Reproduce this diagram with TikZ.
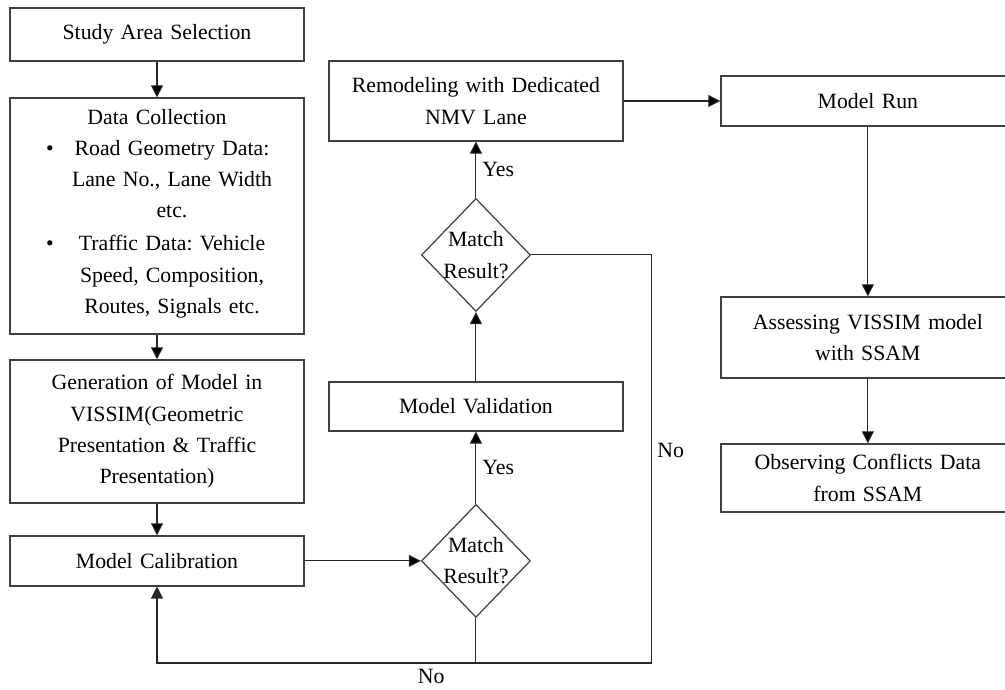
\documentclass[tikz,border=0pt]{standalone}
\usepackage{fontspec}
\setmainfont{Liberation Serif}
\usepackage{tikz}
\usetikzlibrary{positioning,shapes.geometric,arrows.meta}
\frenchspacing

\newcommand{\bulletline}[1]{\par\noindent\hspace*{0.72cm}\makebox[0.37cm][l]{\textbullet}\parbox[t]{4.3cm}{\centering\strut #1\strut}}

\tikzset{
  block/.style={draw=black!75, line width=0.7pt, minimum width=5.88cm, text width=5.6cm, align=center, inner sep=0pt},
  decision/.style={diamond, draw=black!75, line width=0.7pt, minimum width=2.18cm, minimum height=2.26cm, inner sep=-3pt, align=center},
  line/.style={draw=black!85, line width=0.6pt}
}

\begin{document}
\begin{tikzpicture}[x=0.02cm,y=-0.02cm,on grid,font=\fontsize{12.4}{17.8}\selectfont,>={Triangle[length=2.4mm,width=2.4mm]}]
  \useasboundingbox (0,0) rectangle (1005,690);
  \node[block, minimum height=1.06cm] (study) at (157,34.5) {Study Area Selection};
  \node[block, text width=5.88cm, align=left, minimum height=4.72cm] (data) [below=3.63cm of study] {\makebox[5.88cm]{Data Collection}\bulletline{Road Geometry Data:\\ Lane No., Lane Width\\ etc.}\bulletline{Traffic Data: Vehicle\\ Speed, Composition,\\ Routes, Signals etc.}};
  \node[block, minimum height=2.86cm] (gen) [below=4.31cm of data] {Generation of Model in\\ VISSIM(Geometric\\ Presentation \& Traffic\\ Presentation)};
  \node[block, minimum height=1cm] (calib) [below=2.59cm of gen] {Model Calibration};
  \node[decision] (match2) [right=6.38cm of calib] {Match\\ Result?};
  \node[block, minimum height=0.98cm] (valid) [above=3.09cm of match2] {Model Validation};
  \node[decision] (match1) [above=3.03cm of valid] {Match\\ Result?};
  \node[block, minimum height=1.6cm] (remodel) [above=3.08cm of match1] {Remodeling with Dedicated\\ NMV Lane};
  \node[block, minimum height=1cm] (run) [right=7.84cm of remodel] {Model Run};
  \node[block, minimum height=1.62cm] (assess) [below=4.73cm of run] {Assessing VISSIM model\\ with SSAM};
  \node[block, minimum height=1.36cm] (observe) [below=2.81cm of assess] {Observing Conflicts Data\\ from SSAM};
  \path[line,->] (study) edge (data);
  \path[line,->] (data) edge (gen);
  \path[line,->] (gen) edge (calib);
  \path[line,->] (calib) edge (match2);
  \path[line,->] (match2) edge node[right] {Yes} (valid);
  \path[line,->] (valid) edge (match1);
  \path[line,->] (match1) edge node[right] {Yes} (remodel);
  \path[line,->] (remodel) edge (run);
  \path[line,->] (run) edge (assess);
  \path[line,->] (assess) edge (observe);
  \path[line,->] (match2.south) -- ++(0,45) coordinate (join) -| node[pos=0.07,below] {No} (calib.south);
  \path[line] (match1.east) -- ++(120,0) |- node[pos=0.24,right] {No} (join);
\end{tikzpicture}
\end{document}
